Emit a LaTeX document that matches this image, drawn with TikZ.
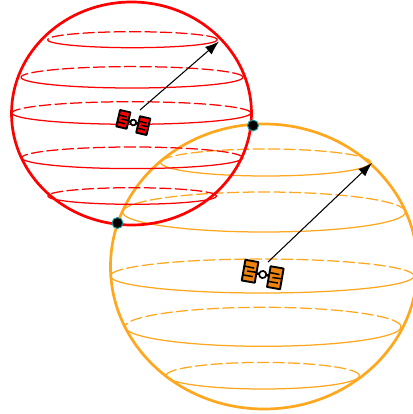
\documentclass[tikz,border=0pt]{standalone}
\usetikzlibrary{arrows.meta}
\definecolor{sphred}{HTML}{FF0000}
\definecolor{sphorange}{HTML}{FFA81F}
\definecolor{panelorange}{HTML}{EE8410}
\definecolor{dotring}{HTML}{1E9A9A}
\newcommand{\latband}[5]{%
  \draw[band,#1,dash pattern=on 12pt off 3.5pt] (#2+#4,#3) arc[start angle=0,end angle=180,x radius=#4 pt,y radius=#5 pt];
  \draw[band,#1] (#2+#4,#3) arc[start angle=0,end angle=-180,x radius=#4 pt,y radius=#5 pt];
}
\tikzset{
  x=1pt,y=-1pt,
  band/.style={line width=1.25pt},
  shell/.style={line width=2.7pt},
  pointer/.style={draw=black,line width=1.05pt,-{Latex[length=14pt,width=10pt]}},
  junction/.style={circle,fill=black,draw=dotring,line width=1pt,minimum size=11pt,inner sep=0pt},
  panelbox/.style={draw=black,line width=1.9pt,line join=round},
  panelbar/.style={draw=black,line width=1.5pt},
  pics/satellite/.style={code={
    \draw[black,line width=2.4pt] (-8,0) -- (9,0);
    \foreach \px/\py in {-13/-1,13/1}{
      \filldraw[panelbox,fill=#1] (\px-6.6,\py-10.5) rectangle (\px+6.6,\py+10.5);
      \draw[panelbar] (\px-6.6,\py-4.2) -- (\px+3.5,\py-3.8);
      \draw[panelbar] (\px-3,\py+0.3) -- (\px+6.6,\py-0.1);
      \draw[panelbar] (\px-6.6,\py+4.8) -- (\px+3.5,\py+4.8);
    }
    \filldraw[fill=white,draw=black,line width=1.7pt] (0,0) circle (3.6);
  }}
}
\begin{document}
\begin{tikzpicture}
\useasboundingbox (0,0) rectangle (412,414);
% orange sphere
\latband{sphorange}{265.7}{162.5}{105}{13.5}
\latband{sphorange}{264}{212}{141.5}{20}
\latband{sphorange}{262}{276}{152}{17}
\latband{sphorange}{263}{326.8}{138}{19.5}
\latband{sphorange}{262.7}{375.7}{96.7}{13.3}
\draw[shell,sphorange] (264,266.5) ellipse[x radius=153.5pt,y radius=142.5pt];
% red sphere
\latband{sphred}{132.4}{39.7}{85}{8}
\latband{sphred}{132}{77.3}{111}{10.7}
\latband{sphred}{131.4}{113}{119.4}{11.3}
\latband{sphred}{132.2}{157.8}{110.5}{10.8}
\latband{sphred}{132.2}{196}{84.5}{8.3}
\draw[shell,sphred] (131.5,113.5) ellipse[x radius=120pt,y radius=111.5pt];
% pointers
\coordinate (redfrom) at (140,110);
\coordinate (redto) at (219,41.5);
\coordinate (orangefrom) at (268,262);
\coordinate (orangeto) at (372,163);
\draw[pointer] (redfrom) -- (redto);
\draw[pointer] (orangefrom) -- (orangeto);
% junctions
\node[junction] (jtop) at (253,125.5) {};
\node[junction] (jbottom) at (117.5,223) {};
% satellites
\pic[transform shape,rotate=-13,scale=0.8] at (133.3,122.5) {satellite=sphred};
\pic[rotate=-10] at (262.7,274.5) {satellite=panelorange};
\end{tikzpicture}
\end{document}
